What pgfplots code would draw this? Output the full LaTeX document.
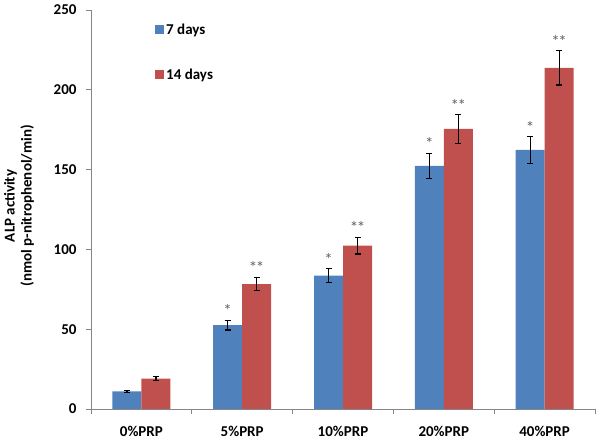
\documentclass[border=0pt]{standalone}
\usepackage{fontspec}
\setmainfont{Carlito}
\usepackage{pgfplots}
\usepackage{pgfplotstable}
\pgfplotsset{compat=1.18}
\definecolor{blue7}{RGB}{79,129,189}
\definecolor{red14}{RGB}{192,80,77}
\definecolor{axgray}{RGB}{134,134,134}
\definecolor{stargray}{RGB}{100,100,100}
\pgfplotstableread{
x y7 e7 y14 e14
0 11.0 0.8 19.0 1.3
1 52.5 3.0 78.3 4.3
2 83.5 4.3 102.3 5.2
3 152.3 7.8 175.5 8.9
4 162.3 8.4 213.8 10.8
}\alpdata
\begin{document}
\begin{tikzpicture}
\useasboundingbox (0,0) rectangle (600bp,447bp);
\begin{axis}[
  at={(91bp,38bp)}, anchor=south west,
  scale only axis, width=504bp, height=399bp,
  xmin=-0.5, xmax=4.5, ymin=0, ymax=250,
  axis x line*=bottom, axis y line*=left,
  axis line style={axgray, line width=0.8bp, -},
  every tick/.style={axgray, line width=0.8bp},
  tick align=outside,
  major tick length=5bp,
  xtick={-0.5,0.5,...,4.5},
  x tick label as interval=true,
  xticklabels={0\%PRP,5\%PRP,10\%PRP,20\%PRP,40\%PRP},
  ytick={0,50,...,250},
  font=\fontsize{15bp}{18bp}\selectfont\bfseries,
  ticklabel style={font=\fontsize{15bp}{18bp}\selectfont\bfseries, /pgf/number format/assume math mode=true},
  yticklabel style={xshift=-6bp},
  xticklabel style={yshift=-9bp},
  ylabel={ALP activity\\(nmol p-nitrophenol/min)},
  ylabel style={align=center, at={(axis description cs:-0.143,0.509)}, anchor=center, font=\fontsize{15bp}{17bp}\selectfont\bfseries},
  legend style={draw=none, fill=none, at={(axis description cs:0.127,0.97)}, anchor=north west,
    row sep=29bp, inner sep=0pt, cells={anchor=west}, font=\fontsize{15bp}{18bp}\selectfont\bfseries},
]
\addplot[ybar, bar width=29bp, bar shift=-14.5bp, fill=blue7, draw=none,
  legend image code/.code={\fill[blue7] (0bp,-4bp) rectangle (9bp,5bp);},
  error bars/.cd, y dir=both, y explicit,
  error bar style={black, line width=1.2bp, xshift=-14.5bp},
  error mark options={black, line width=1.2bp, mark size=3bp, rotate=90}]
  table[x=x, y=y7, y error=e7] {\alpdata};
\addlegendentry{7 days}
\addplot[ybar, bar width=29bp, bar shift=14.5bp, fill=red14, draw=none,
  legend image code/.code={\fill[red14] (0bp,-4bp) rectangle (9bp,5bp);},
  error bars/.cd, y dir=both, y explicit,
  error bar style={black, line width=1.2bp, xshift=14.5bp},
  error mark options={black, line width=1.2bp, mark size=3bp, rotate=90}]
  table[x=x, y=y14, y error=e14] {\alpdata};
\addlegendentry{14 days}
\addplot[forget plot, draw=none, mark=none, skip coords between index={0}{1},
  nodes near coords={*},
  every node near coord/.style={anchor=base, inner sep=0pt, xshift=-14.5bp, yshift=3.5bp, text=stargray, font=\fontsize{17bp}{18bp}\selectfont}]
  table[x=x, y expr=\thisrow{y7}+\thisrow{e7}] {\alpdata};
\addplot[forget plot, draw=none, mark=none, skip coords between index={0}{1},
  nodes near coords={*\kern-1.5bp*},
  every node near coord/.style={anchor=base, inner sep=0pt, xshift=14.5bp, yshift=3.5bp, text=stargray, font=\fontsize{17bp}{18bp}\selectfont}]
  table[x=x, y expr=\thisrow{y14}+\thisrow{e14}] {\alpdata};
\end{axis}
\end{tikzpicture}
\end{document}
